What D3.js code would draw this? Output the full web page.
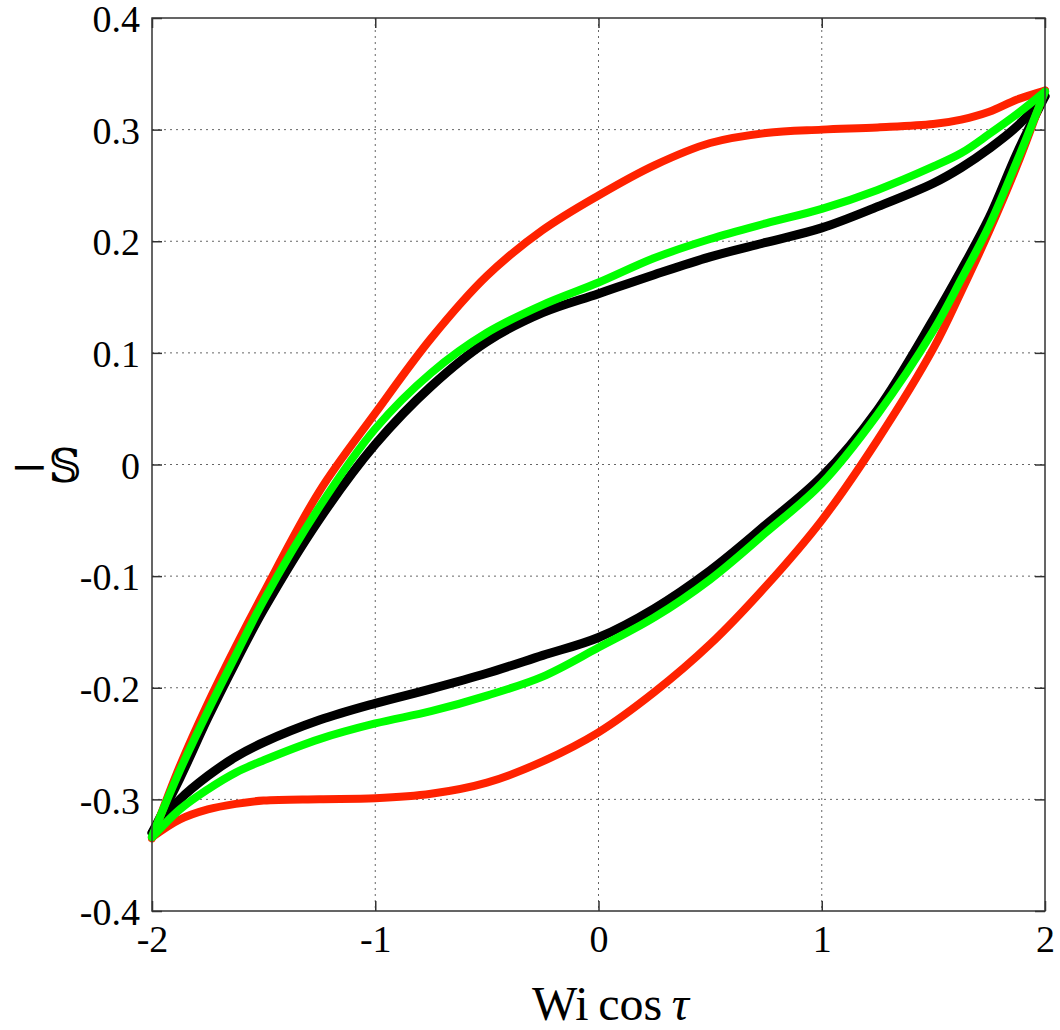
<!DOCTYPE html>
<html>
<head>
<meta charset="utf-8">
<script src="https://cdn.jsdelivr.net/npm/d3@7"></script>
<style>
  body { margin: 0; background: #fff; }
  svg { display: block; }
</style>
</head>
<body>
<svg id="chart"></svg>
<script>
// sample positions along Wi cos(tau), shared by all branches
var xs = [-2, -1.875, -1.75, -1.625, -1.5, -1.25, -1, -0.75, -0.5, -0.25, 0,
          0.25, 0.5, 0.75, 1, 1.25, 1.5, 1.625, 1.75, 1.875, 2];

// -S, upper and lower branch of each loop
var redUpper   = [-0.335, -0.270, -0.214, -0.163, -0.115, -0.024, 0.046, 0.113, 0.169, 0.210, 0.241,
                  0.268, 0.288, 0.297, 0.300, 0.302, 0.305, 0.309, 0.316, 0.327, 0.335];
var redLower   = [-0.334, -0.318, -0.309, -0.304, -0.301, -0.2998, -0.299, -0.295, -0.285, -0.266, -0.240,
                  -0.204, -0.161, -0.109, -0.050, 0.022, 0.104, 0.155, 0.209, 0.268, 0.335];
var blackUpper = [-0.330, -0.281, -0.227, -0.177, -0.130, -0.049, 0.018, 0.070, 0.110, 0.136, 0.153,
                  0.170, 0.186, 0.199, 0.212, 0.231, 0.252, 0.266, 0.283, 0.303, 0.330];
var blackLower = [-0.330, -0.300, -0.279, -0.262, -0.249, -0.229, -0.214, -0.201, -0.187, -0.171, -0.155,
                  -0.129, -0.095, -0.054, -0.011, 0.049, 0.130, 0.174, 0.221, 0.279, 0.330];
var greenUpper = [-0.333, -0.274, -0.221, -0.171, -0.122, -0.038, 0.032, 0.082, 0.118, 0.143, 0.163,
                  0.185, 0.202, 0.216, 0.229, 0.246, 0.267, 0.279, 0.296, 0.314, 0.334];
var greenLower = [-0.334, -0.309, -0.291, -0.276, -0.265, -0.246, -0.232, -0.221, -0.207, -0.190, -0.164,
                  -0.137, -0.103, -0.061, -0.017, 0.045, 0.120, 0.166, 0.214, 0.272, 0.334];

var xTicks = [-2, -1, 0, 1, 2];
var yTicks = [-0.4, -0.3, -0.2, -0.1, 0, 0.1, 0.2, 0.3, 0.4];

var width = 1060, height = 1030;
var plotL = 152, plotR = 1045, plotT = 18, plotB = 911;
var serif = "'Liberation Serif', 'Times New Roman', serif";

var svg = d3.select("#chart").attr("width", width).attr("height", height);

var x = d3.scaleLinear().domain([-2, 2]).range([plotL, plotR]);
var y = d3.scaleLinear().domain([-0.4, 0.4]).range([plotB, plotT]);

// dotted grid
var grid = svg.append("g").attr("class", "grid");
grid.selectAll("line.gx")
    .data(xTicks.slice(1, -1))
    .enter().append("line")
    .attr("class", "gx")
    .attr("x1", function(d) { return x(d); })
    .attr("x2", function(d) { return x(d); })
    .attr("y1", plotT).attr("y2", plotB);
grid.selectAll("line.gy")
    .data(yTicks.slice(1, -1))
    .enter().append("line")
    .attr("class", "gy")
    .attr("y1", function(d) { return y(d); })
    .attr("y2", function(d) { return y(d); })
    .attr("x1", plotL).attr("x2", plotR);
grid.selectAll("line")
    .attr("stroke", "#666")
    .attr("stroke-width", 1)
    .attr("stroke-dasharray", "2,4");

// curves: black first, then red, green on top
var series = [
  { color: "#000000", w: 9, branches: [blackLower, blackUpper] },
  { color: "#ff2200", w: 8, branches: [redLower, redUpper] },
  { color: "#00ff00", w: 8, branches: [greenLower, greenUpper] }
];

var line = d3.line()
    .x(function(d) { return x(d[0]); })
    .y(function(d) { return y(d[1]); })
    .curve(d3.curveCatmullRom.alpha(0.5));

series.forEach(function(s) {
  s.branches.forEach(function(vals) {
    svg.append("path")
      .datum(xs.map(function(xv, i) { return [xv, vals[i]]; }))
      .attr("fill", "none")
      .attr("stroke", s.color)
      .attr("stroke-width", s.w)
      .attr("stroke-linecap", "round")
      .attr("stroke-linejoin", "round")
      .attr("d", line);
  });
});

// axes with inward ticks on all four sides
var fmtY = function(d) { return d === 0 ? "0" : d3.format(".1f")(d).replace("\u2212", "-"); };
var fmtX = function(d) { return String(d).replace("\u2212", "-"); };

var axL = svg.append("g").attr("transform", "translate(" + plotL + ",0)")
    .call(d3.axisLeft(y).tickValues(yTicks).tickSize(-10).tickPadding(12).tickFormat(fmtY));
var axB = svg.append("g").attr("transform", "translate(0," + plotB + ")")
    .call(d3.axisBottom(x).tickValues(xTicks).tickSize(-10).tickPadding(14).tickFormat(fmtX));
var axR = svg.append("g").attr("transform", "translate(" + plotR + ",0)")
    .call(d3.axisRight(y).tickValues(yTicks).tickSize(-10).tickFormat(""));
var axT = svg.append("g").attr("transform", "translate(0," + plotT + ")")
    .call(d3.axisTop(x).tickValues(xTicks).tickSize(-10).tickFormat(""));

[axL, axB, axR, axT].forEach(function(a) {
  a.attr("font-family", serif).attr("font-size", 38);
  a.select(".domain").remove();
  a.selectAll("line").attr("stroke", "#333").attr("stroke-width", 1.5);
  a.selectAll("text").attr("fill", "#000");
});
axB.selectAll("text").attr("dy", "0.71em");
axL.selectAll("text").attr("dy", "0.36em");

// frame
svg.append("rect")
    .attr("x", plotL).attr("y", plotT)
    .attr("width", plotR - plotL).attr("height", plotB - plotT)
    .attr("fill", "none")
    .attr("stroke", "#333")
    .attr("stroke-width", 1.5);

// axis titles
var xl = svg.append("text")
    .attr("x", (plotL + plotR) / 2 + 12)
    .attr("y", 1020)
    .attr("text-anchor", "middle")
    .attr("font-family", serif)
    .attr("font-size", 48);
xl.append("tspan").text("Wi\u2009cos\u2009");
xl.append("tspan").attr("font-style", "italic").text("\u03c4");

svg.append("text")
    .attr("x", 10)
    .attr("y", 482)
    .attr("font-family", "'DejaVu Serif', 'DejaVu Sans', serif")
    .attr("font-size", 46)
    .text("\u2212\ud835\udd4a");
</script>
</body>
</html>
